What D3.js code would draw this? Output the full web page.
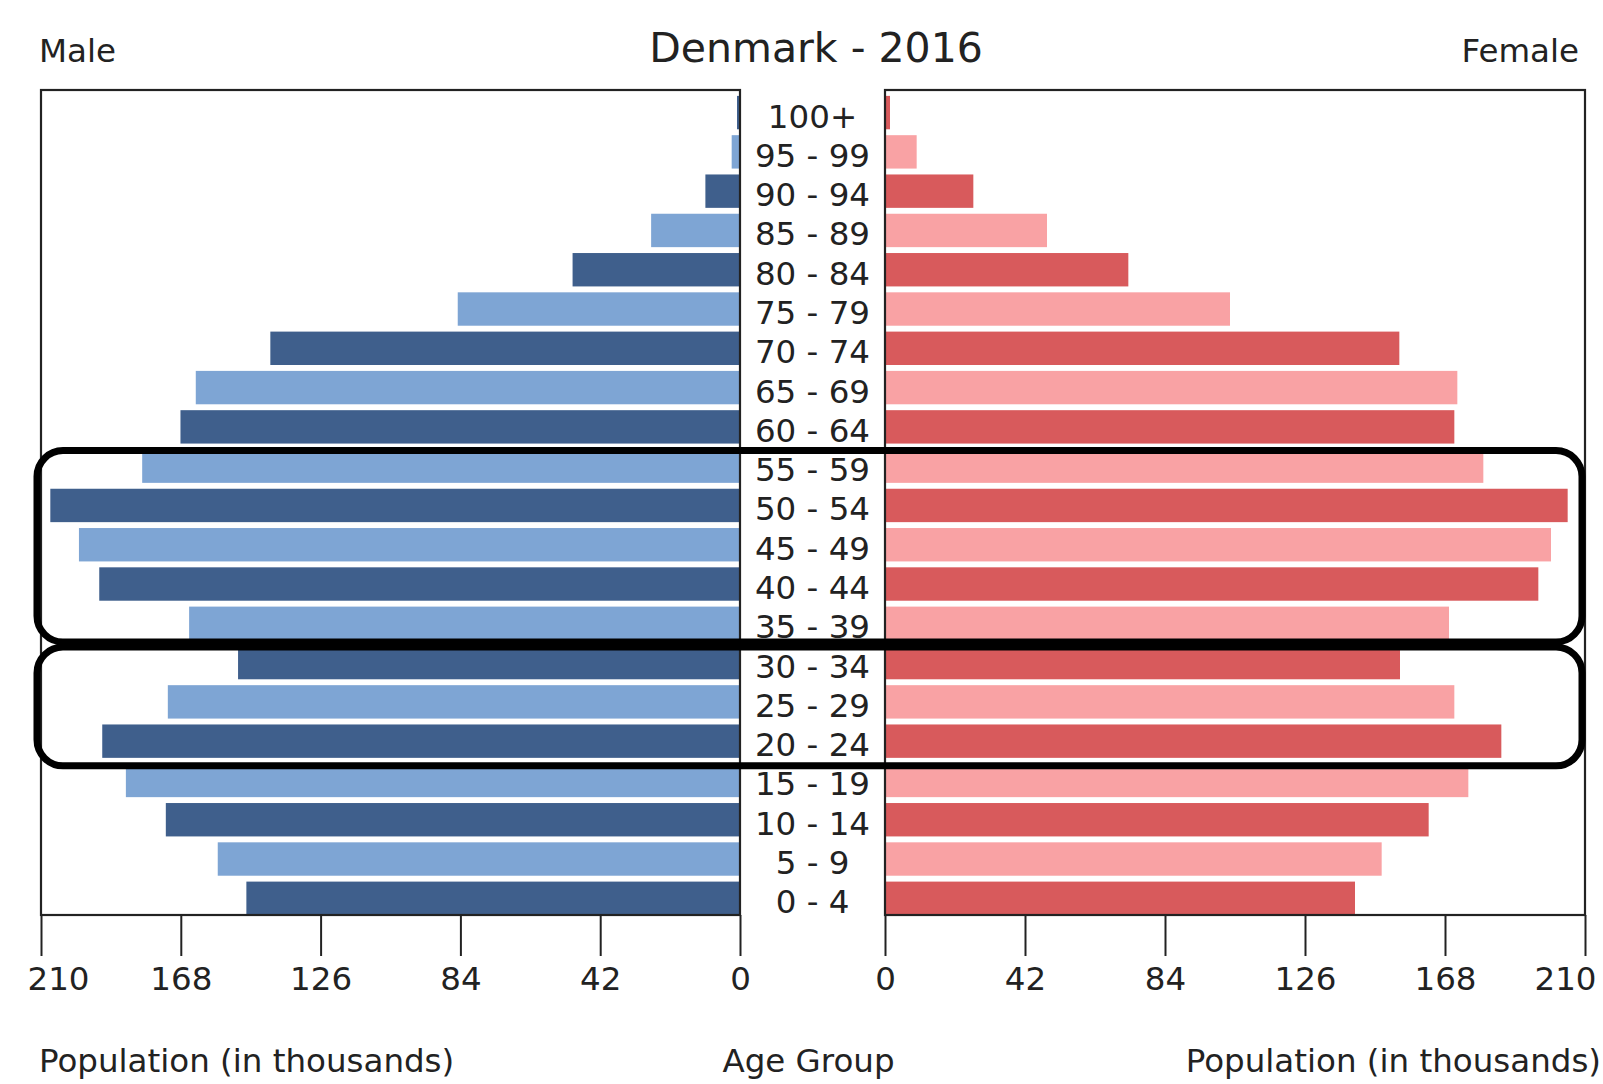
<!DOCTYPE html>
<html>
<head>
<meta charset="utf-8">
<script src="https://cdn.jsdelivr.net/npm/d3@7"></script>
<style>
	body { margin: 0; background: #fff; }
	text { font-family: "DejaVu Sans", sans-serif; fill: #222; }
</style>
</head>
<body>
<svg id="viz"></svg>
<script>
// Age groups, bottom to top
const ages = ["0 - 4", "5 - 9", "10 - 14", "15 - 19", "20 - 24", "25 - 29", "30 - 34",
	"35 - 39", "40 - 44", "45 - 49", "50 - 54", "55 - 59", "60 - 64", "65 - 69",
	"70 - 74", "75 - 79", "80 - 84", "85 - 89", "90 - 94", "95 - 99", "100+"];

// Population in thousands
const maleValues = [148.3, 156.9, 172.5, 184.5, 191.6, 171.9, 150.8, 165.5, 192.5, 198.6,
	207.2, 179.6, 168.1, 163.5, 141.1, 84.8, 50.3, 26.7, 10.4, 2.5, 0.9];
const femaleValues = [141.0, 149.0, 163.1, 175.0, 184.9, 170.8, 154.5, 169.2, 196.0, 199.8,
	204.8, 179.5, 170.8, 171.7, 154.3, 103.5, 73.0, 48.6, 26.5, 9.5, 1.5];

const tickValues = [0, 42, 84, 126, 168, 210];

// highlighted groups (rounded boxes): [top group, bottom group]
const highlights = [["55 - 59", "35 - 39"], ["30 - 34", "20 - 24"]];

const width = 1603;
const height = 1084;
const fontSize = 32.5;

const colors = {
	male: ["#3f5f8c", "#7ea5d4"],
	female: ["#d85a5c", "#f9a2a4"]
};

let translate = function(x, y) {
	return 'translate(' + x + ',' + y + ')';
}

const svg = d3.select("svg#viz")
	.attr("width", width)
	.attr("height", height);

const data = ages.map((a, i) => ({ age: a, i: i, male: maleValues[i], female: femaleValues[i] }));

// scales
const xMale = d3.scaleLinear().domain([0, 210]).range([740, 41]);
const xFemale = d3.scaleLinear().domain([0, 210]).range([885, 1585]);

const y = d3.scaleBand()
	.domain(ages.slice().reverse())
	.range([90, 915]);

const bw = y.bandwidth();
const barTop = d => y(d.age) + bw * 0.15;
const barH = bw * 0.85;

// male bars
svg.append("g").attr("id", "male-bars")
	.selectAll("rect")
	.data(data)
	.join("rect")
	.attr("x", d => xMale(d.male))
	.attr("y", barTop)
	.attr("width", d => xMale(0) - xMale(d.male))
	.attr("height", barH)
	.attr("fill", d => colors.male[d.i % 2]);

// female bars
svg.append("g").attr("id", "female-bars")
	.selectAll("rect")
	.data(data)
	.join("rect")
	.attr("x", xFemale(0))
	.attr("y", barTop)
	.attr("width", d => xFemale(d.female) - xFemale(0))
	.attr("height", barH)
	.attr("fill", d => colors.female[d.i % 2]);

// panel frames
[xMale, xFemale].forEach(function(x) {
	const r = x.range();
	svg.append("rect")
		.attr("x", Math.min(r[0], r[1]))
		.attr("y", 90)
		.attr("width", Math.abs(r[1] - r[0]))
		.attr("height", 915 - 90)
		.attr("fill", "none")
		.attr("stroke", "#222")
		.attr("stroke-width", 2.2);
});

// axes
function drawAxis(x, id, edgeShift) {
	const g = svg.append("g")
		.attr("id", id)
		.attr("transform", translate(0, 915))
		.call(d3.axisBottom(x).tickValues(tickValues).tickSize(41).tickPadding(11));
	g.select(".domain").remove();
	g.selectAll(".tick line").attr("stroke", "#222").attr("stroke-width", 2);
	g.selectAll(".tick text")
		.attr("font-size", fontSize)
		.attr("font-family", "DejaVu Sans")
		.attr("fill", "#222")
		.attr("dx", d => d === 210 ? edgeShift : 0);
}
drawAxis(xMale, "x-axis-male", 17);
drawAxis(xFemale, "x-axis-female", -20);

// age labels
const midX = (xMale(0) + xFemale(0)) / 2;
svg.append("g").attr("id", "age-labels")
	.selectAll("text")
	.data(data)
	.join("text")
	.attr("x", midX)
	.attr("y", d => barTop(d) + barH / 2 + 15)
	.attr("text-anchor", "middle")
	.attr("font-size", fontSize)
	.text(d => d.age);

// highlight boxes
svg.append("g").attr("id", "highlights")
	.selectAll("rect")
	.data(highlights)
	.join("rect")
	.attr("x", 37)
	.attr("y", d => y(d[0]) + 7)
	.attr("width", 1582 - 37)
	.attr("height", (d, i) => y(d[1]) + bw + (i === 0 ? 2 : 8) - y(d[0]) - 7)
	.attr("rx", 26)
	.attr("ry", 26)
	.attr("fill", "none")
	.attr("stroke", "#000")
	.attr("stroke-width", 7);

// titles
svg.append("text")
	.attr("x", 816).attr("y", 62)
	.attr("text-anchor", "middle")
	.attr("font-size", 41)
	.text("Denmark - 2016");

svg.append("text")
	.attr("x", 39).attr("y", 62)
	.attr("font-size", fontSize)
	.text("Male");

svg.append("text")
	.attr("x", 1579).attr("y", 62)
	.attr("text-anchor", "end")
	.attr("font-size", fontSize)
	.text("Female");

svg.append("text")
	.attr("x", 39).attr("y", 1072)
	.attr("font-size", fontSize)
	.text("Population (in thousands)");

svg.append("text")
	.attr("x", midX - 4).attr("y", 1072)
	.attr("text-anchor", "middle")
	.attr("font-size", fontSize)
	.text("Age Group");

svg.append("text")
	.attr("x", 1601).attr("y", 1072)
	.attr("text-anchor", "end")
	.attr("font-size", fontSize)
	.text("Population (in thousands)");
</script>
</body>
</html>
